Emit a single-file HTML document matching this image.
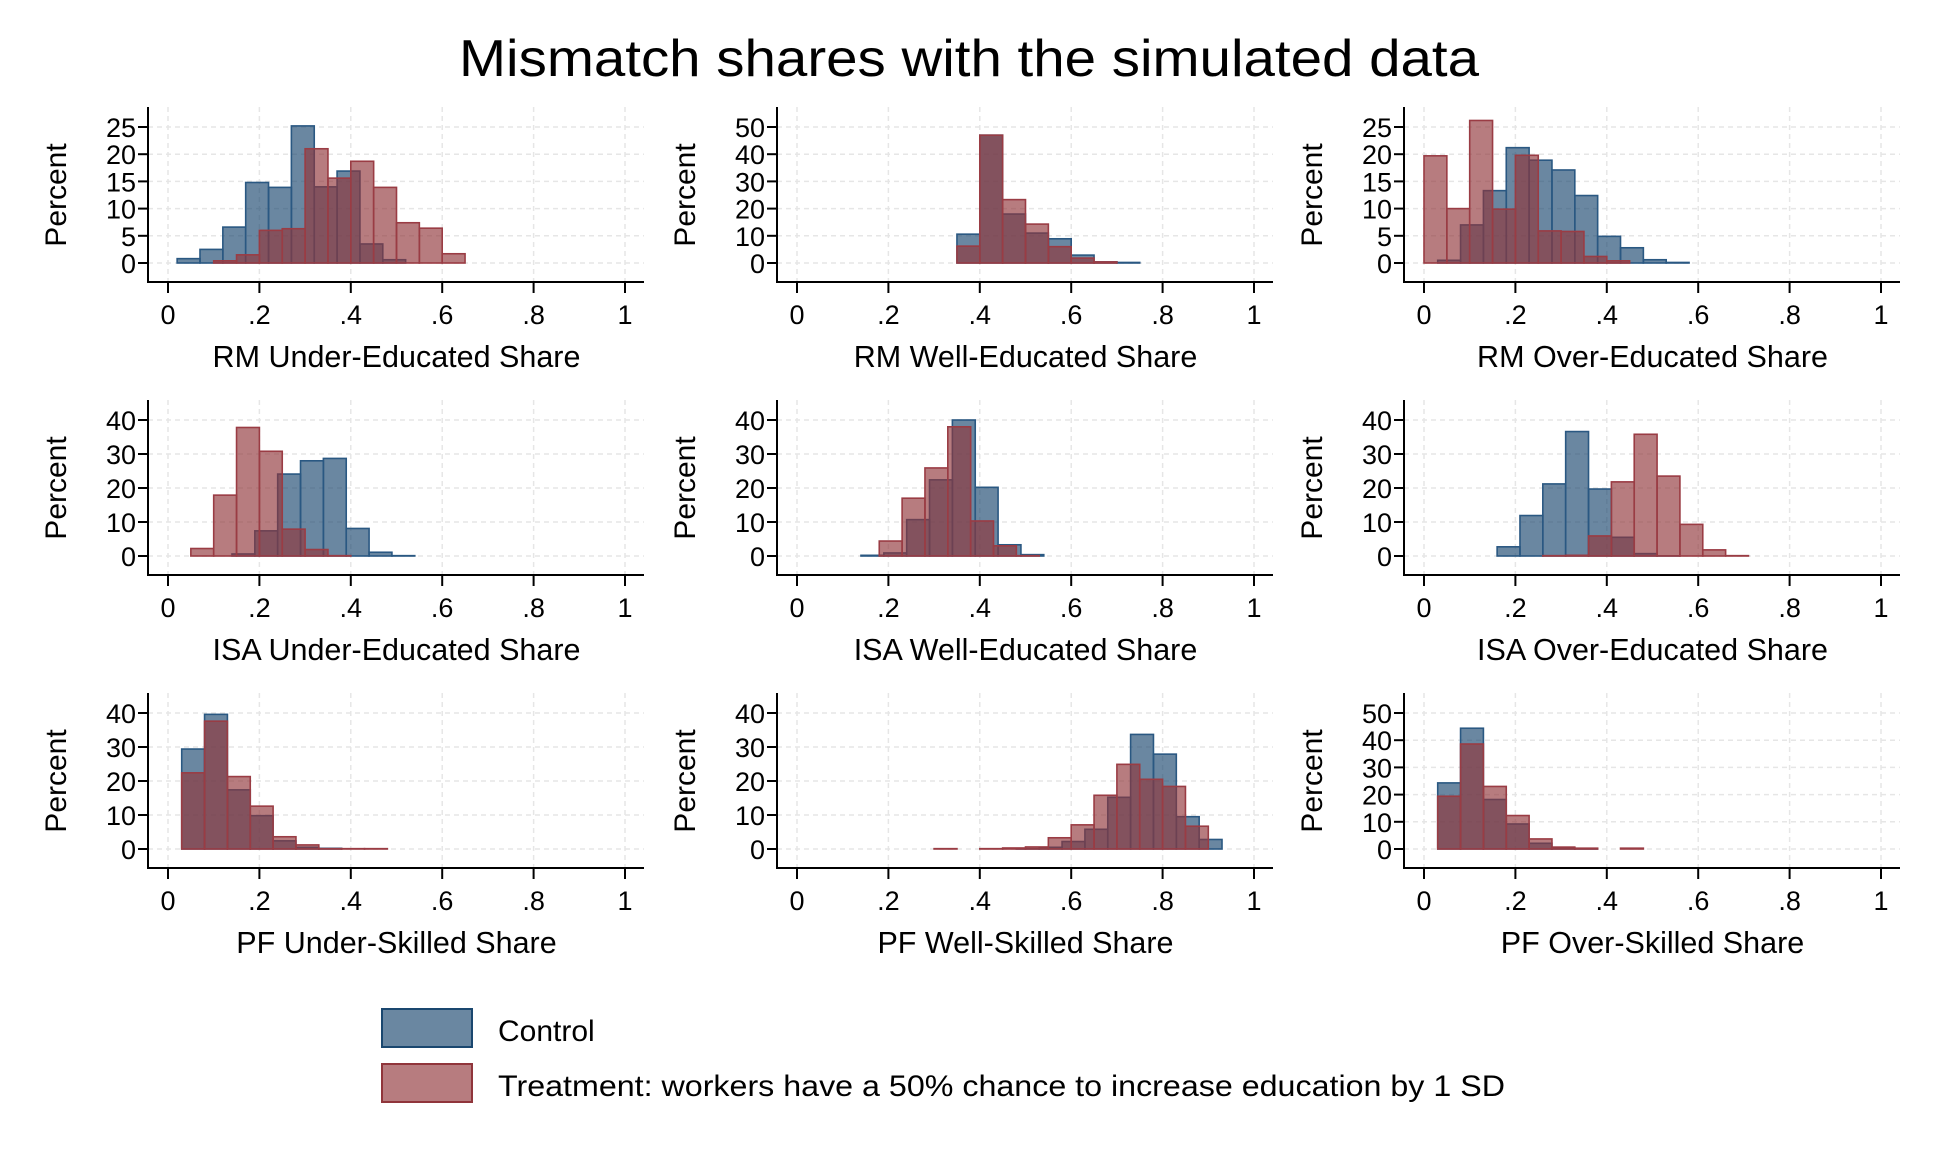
<!DOCTYPE html>
<html><head><meta charset="utf-8">
<style>
html,body{margin:0;padding:0;background:#fff;}
svg{display:block;font-family:"Liberation Sans",Arial,sans-serif;}
</style></head>
<body>
<svg id="chart" width="1938" height="1162" viewBox="0 0 1938 1162" xmlns="http://www.w3.org/2000/svg">
<rect width="1938" height="1162" fill="#fff"/>
<text x="969" y="76" font-size="52" text-anchor="middle" textLength="1020" lengthAdjust="spacingAndGlyphs">Mismatch shares with the simulated data</text>
<g id="panels"></g>
<g>
<rect x="382" y="1009" width="90" height="38" fill="#1a476f" fill-opacity="0.65" stroke="#1a476f" stroke-width="2"/>
<text x="498" y="1041" font-size="30">Control</text>
<rect x="382" y="1064" width="90" height="38" fill="#90353b" fill-opacity="0.65" stroke="#90353b" stroke-width="2"/>
<text x="498" y="1096" font-size="30" textLength="1007" lengthAdjust="spacingAndGlyphs">Treatment: workers have a 50% chance to increase education by 1 SD</text>
</g>
</svg>
<script>
// ---- data (percent per bin, bin width 0.05) ----
const panelTitles = ["RM Under-Educated Share","RM Well-Educated Share","RM Over-Educated Share",
  "ISA Under-Educated Share","ISA Well-Educated Share","ISA Over-Educated Share",
  "PF Under-Skilled Share","PF Well-Skilled Share","PF Over-Skilled Share"];
const xTicks = [0,0.2,0.4,0.6,0.8,1];
const xTickLabels = ["0",".2",".4",".6",".8","1"];
const yTicksSet25 = [0,5,10,15,20,25];
const yTicksSet50 = [0,10,20,30,40,50];
const yTicksSet40 = [0,10,20,30,40];
const panelYTicks = [yTicksSet25,yTicksSet50,yTicksSet25,yTicksSet40,yTicksSet40,yTicksSet40,yTicksSet40,yTicksSet40,yTicksSet50];
const binWidth = 0.05;
const controlStart = [0.02,0.35,0.03,0.14,0.14,0.16,0.03,0.48,0.03];
const treatStart   = [0.10,0.35,0.00,0.05,0.18,0.26,0.03,0.30,0.03];
const control0 = [0.8,2.5,6.6,14.8,13.9,25.2,14,16.9,3.5,0.6];
const treat0   = [0.4,1.5,6.0,6.3,21,15.6,18.7,13.9,7.4,6.4,1.7];
const control1 = [10.6,47,18,11,8.9,2.9,0.4,0.2];
const treat1   = [6.2,47,23.3,14.3,6,1.8,0.4];
const control2 = [0.5,7,13.3,21.2,18.9,17.1,12.4,4.9,2.8,0.6,0.1];
const treat2   = [19.7,10,26.2,9.9,19.8,5.9,5.8,1.2,0.4];
const control3 = [0.6,7.4,24.1,28,28.7,8.1,1.1,0.1];
const treat3   = [2.2,17.9,37.8,30.8,7.9,1.9,0.1];
const control4 = [0.2,0.9,10.7,22.4,40,20.2,3.3,0.4];
const treat4   = [4.4,17,25.9,38,10.3,3,0.1];
const control5 = [2.7,11.9,21.2,36.6,19.7,5.5,0.7,0.05];
const treat5   = [0.1,0.2,5.9,21.8,35.8,23.5,9.3,1.8,0.1];
const control6 = [29.4,39.6,17.4,9.8,2.4,0.5,0.2];
const treat6   = [22.4,37.6,21.3,12.6,3.6,1.2,0.1,0.1,0.1];
const control7 = [0.1,0.5,2.2,5.8,15.2,33.7,27.9,9.5,2.8];
const treat7   = [0.1,0,0.1,0.3,0.6,3.3,7.1,15.8,24.9,20.5,18.4,6.7];
const control8 = [24.3,44.4,18.2,9.2,2.1,0.4,0.1];
const treat8   = [19.4,38.6,23,12.3,3.7,0.7,0.3,0,0.3];
const controlSeries = [control0,control1,control2,control3,control4,control5,control6,control7,control8];
const treatSeries = [treat0,treat1,treat2,treat3,treat4,treat5,treat6,treat7,treat8];

const NS = "http://www.w3.org/2000/svg";
const root = document.getElementById("panels");
function mk(tag, attrs, parent){ const e=document.createElementNS(NS,tag); for(const k in attrs) e.setAttribute(k,attrs[k]); parent.appendChild(e); return e; }

const colX0 = [168,797,1424];
const rowY0 = [263,556,849];
const plotW = 457, topPx = 136;

for(let p=0;p<9;p++){
  const c=p%3, r=Math.floor(p/3);
  const X0=colX0[c], Y0=rowY0[r];
  const ticks=panelYTicks[p], ymax=ticks[ticks.length-1];
  const xs = v => X0 + v*plotW;
  const ys = v => Y0 - v*topPx/ymax;
  const g = mk("g",{},root);
  
  
  const axL = X0-20, axR = X0+plotW+19, axB = Y0+19, axT = Y0-156;
  xTicks.forEach(t=>{ mk("line",{x1:xs(t),x2:xs(t),y1:axT,y2:axB,stroke:"#e6e6e6","stroke-width":1.5,"stroke-dasharray":"5,4"},g); });
  ticks.forEach(t=>{ mk("line",{x1:axL,x2:axR,y1:ys(t),y2:ys(t),stroke:"#e6e6e6","stroke-width":1.5,"stroke-dasharray":"5,4"},g); });
  const drawSeries=(vals,start,fill,stroke,name)=>{
    vals.forEach((v,i)=>{
      if(v<=0) return;
      const x0=xs(start+i*binWidth), x1=xs(start+(i+1)*binWidth);
      const b=mk("rect",{x:x0,y:ys(v),width:x1-x0,height:Y0-ys(v),fill:fill,"fill-opacity":0.65,stroke:stroke,"stroke-width":1.6},g);
      
      
    });
  };
  drawSeries(controlSeries[p],controlStart[p],"#1a476f","#2a5882","control");
  drawSeries(treatSeries[p],treatStart[p],"#90353b","#9a3c44","treatment");
  const ya=mk("line",{x1:axL,x2:axL,y1:axT,y2:axB,stroke:"#000","stroke-width":2},g);
  
  
  const xa=mk("line",{x1:axL-1,x2:axR,y1:axB,y2:axB,stroke:"#000","stroke-width":2},g);
  
  
  xTicks.forEach((t,i)=>{
    mk("line",{x1:xs(t),x2:xs(t),y1:axB,y2:axB+11,stroke:"#000","stroke-width":2},g);
    const tl=mk("text",{x:xs(t),y:axB+42,"font-size":27,"text-anchor":"middle"},g);
    tl.textContent=xTickLabels[i];
    
    
  });
  ticks.forEach(t=>{
    mk("line",{x1:axL-10,x2:axL,y1:ys(t),y2:ys(t),stroke:"#000","stroke-width":2},g);
    const tl=mk("text",{x:axL-12,y:ys(t)+10,"font-size":27,"text-anchor":"end"},g);
    tl.textContent=String(t);
    
    
  });
  const xt=mk("text",{x:X0+plotW/2,y:Y0+104,"font-size":30.5,"text-anchor":"middle"},g);
  xt.textContent=panelTitles[p];
  
  
  const yt=mk("text",{x:0,y:0,"font-size":30,"text-anchor":"middle",transform:`translate(${X0-102},${Y0-68}) rotate(-90)`},g);
  yt.textContent="Percent";
  
  
}
</script>
</body></html>
